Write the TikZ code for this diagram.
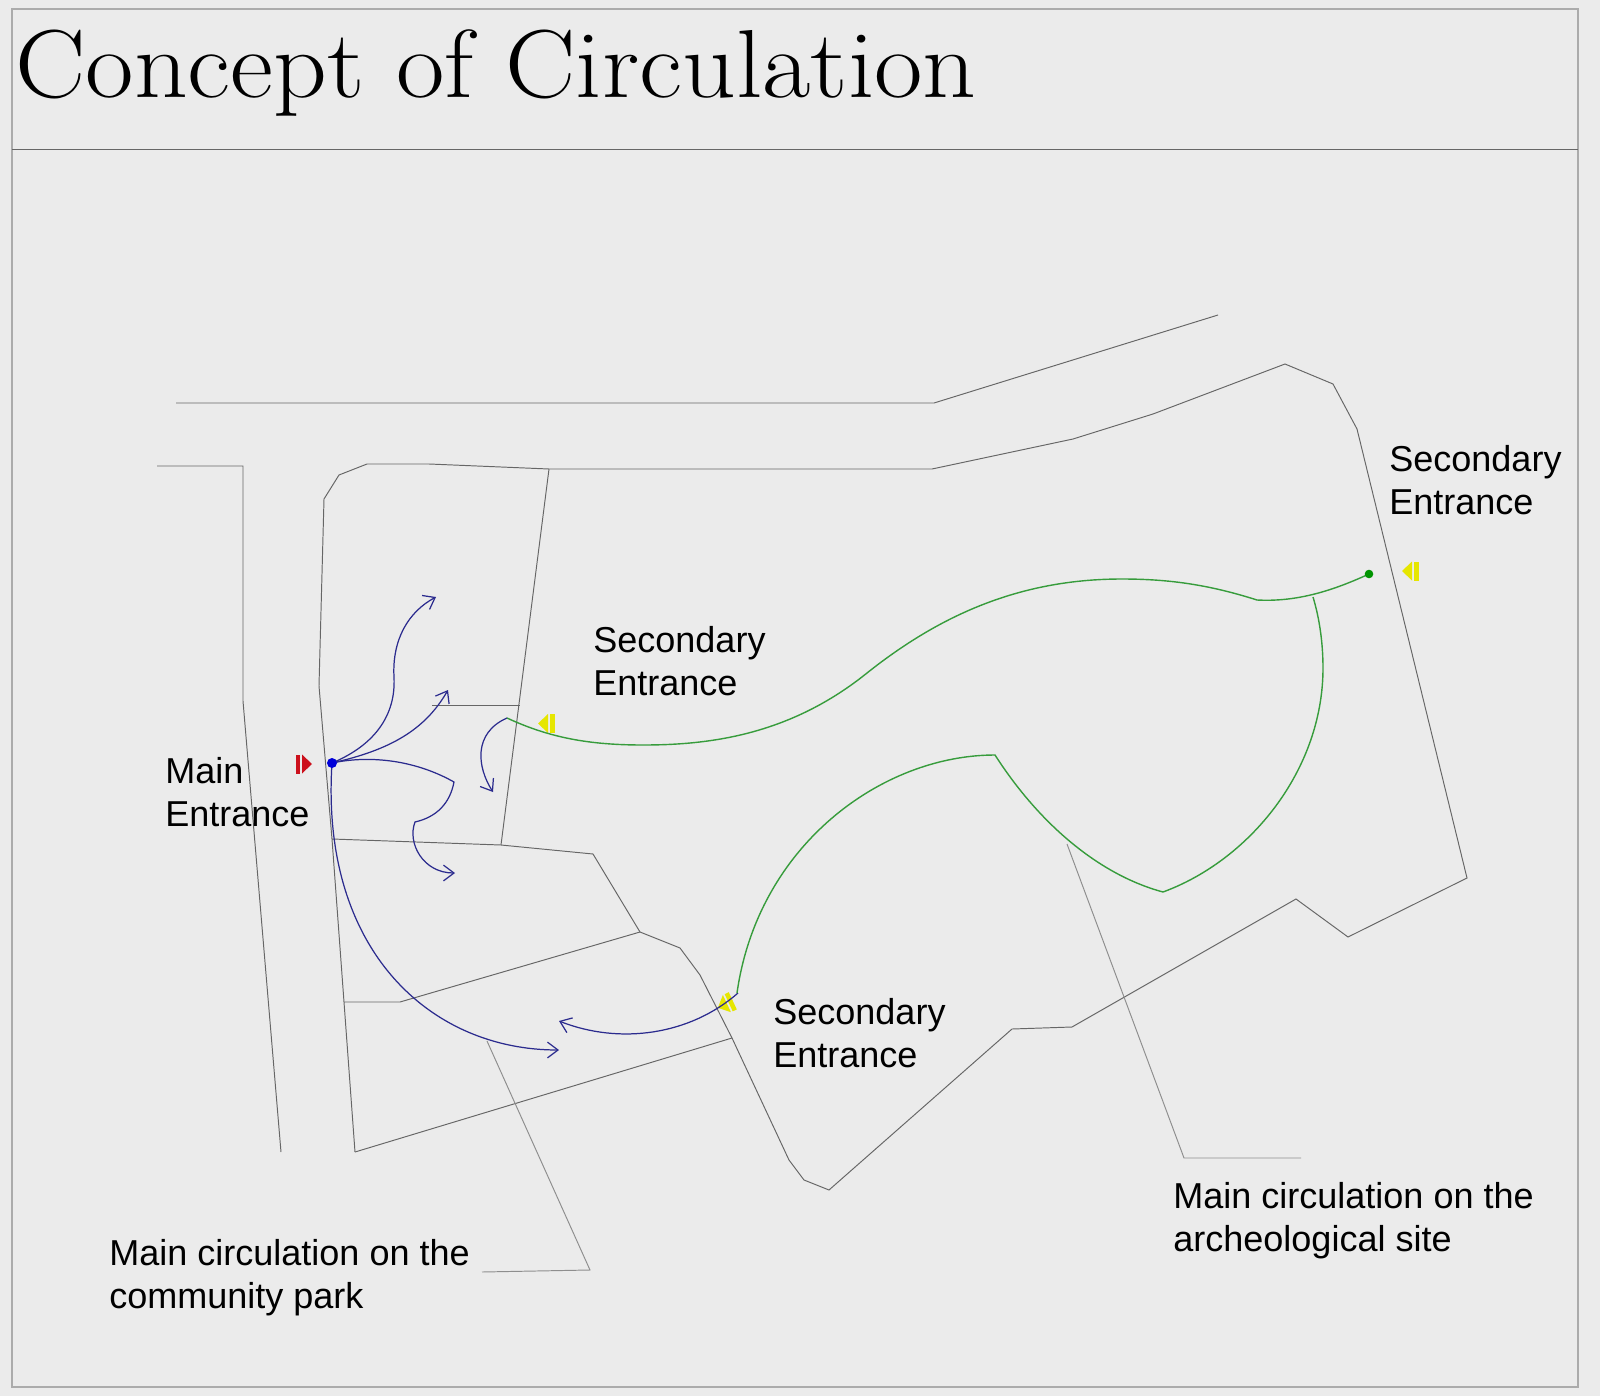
\documentclass[tikz,border=0pt]{standalone}
\usepackage{fontspec}
\setmainfont{Liberation Sans}
\newfontfamily\titlefont{Latin Modern Roman}
\usetikzlibrary{arrows.meta}
\definecolor{pagegray}{HTML}{EBEBEB}
\definecolor{framegray}{HTML}{ABABAB}
\definecolor{wallgray}{HTML}{666666}
\definecolor{leadgray}{HTML}{8E8E8E}
\definecolor{pathblue}{HTML}{2B2B8E}
\definecolor{pathgreen}{HTML}{379C3C}
\definecolor{gatered}{HTML}{CC101C}
\definecolor{gateyellow}{HTML}{E6E600}
\tikzset{
  wall/.style={draw=wallgray,line width=0.55pt},
  leader/.style={draw=leadgray,line width=0.55pt},
  bluepath/.style={draw=pathblue,line width=0.7pt},
  bluearrow/.style={bluepath,-{Straight Barb[length=6pt,width=9pt,line width=0.7pt]}},
  greenpath/.style={draw=pathgreen,line width=0.8pt},
  label/.style={anchor=west,align=left,inner sep=0pt,font=\fontsize{20.5}{24.4}\selectfont},
  gatemark/.pic={
    \fill (-9,0)--(1,-9.5)--(1,9.5)--cycle;
    \fill (3,-9.5) rectangle (7.5,9.5);
  }
}
\begin{document}
\begin{tikzpicture}[x=0.02cm,y=-0.02cm]
  \useasboundingbox (0,0) rectangle (1600,1396);
  \fill[pagegray] (0,0) rectangle (1600,1396);
  % frame and title
  \draw[framegray,line width=0.6pt] (12,9) rectangle (1578,1387);
  \draw[wallgray,line width=0.55pt] (12,149) -- (1578,149);
  \node[anchor=base west,inner sep=0pt,xscale=1.09] (title) at (15,97) {\fontsize{55}{60}\titlefont Concept of Circulation};
  % roads
  \draw[wall] (176,403) -- (934,403) -- (1218,315);
  \draw[wall] (157,466) -- (243,466) -- (243,701) -- (281,1152);
  % site outline
  \draw[wall] (355,1152) -- (344,1002) -- (332,839) -- (319,686) -- (324,499) -- (339,475) -- (367,464) -- (429,464) -- (549,469)
    -- (932,469) -- (1073,439) -- (1153,414) -- (1285,364) -- (1333,384) -- (1357,429) -- (1467,878) -- (1348,937) -- (1296,899)
    -- (1072,1027) -- (1012,1029) -- (829,1190) -- (804,1180) -- (789,1160) -- (732,1038) -- (700,975) -- (680,948) -- (640,932)
    -- (593,854) -- (501,845) -- (332,839);
  % inner parcels
  \draw[wall] (549,469) -- (501,845);
  \draw[wall] (432,705) -- (520,705);
  \draw[wall] (344,1002) -- (400,1002) -- (640,932);
  \draw[wall] (355,1152) -- (732,1038);
  % leaders
  \draw[leader] (487,1041) -- (590,1270) -- (482,1272);
  \draw[leader] (1067,844) -- (1184,1158) -- (1301,1158);
  % entrances
  \pic[color=gatered,xscale=-1] at (303,764) {gatemark};
  \pic[color=gateyellow] at (547,723.5) {gatemark};
  \pic[color=gateyellow,rotate=25] at (726,1004) {gatemark};
  \pic[color=gateyellow] at (1411,571) {gatemark};
  % blue circulation
  \draw[bluearrow] (332,763) .. controls (375,745) and (396,715) .. (394,677) .. controls (392,640) and (408,612) .. (436,597);
  \draw[bluearrow] (332,763) .. controls (390,750) and (425,730) .. (448,690);
  \draw[bluearrow] (332,763) .. controls (370,755) and (415,760) .. (454,782) .. controls (450,803) and (437,817) .. (415,822)
    .. controls (407,843) and (423,873) .. (455,873);
  \draw[bluearrow] (507,718) .. controls (473,733) and (477,767) .. (493,792);
  \draw[bluearrow] (332,763) .. controls (320,950) and (430,1050) .. (559,1050);
  \draw[bluearrow] (738,993) .. controls (690,1035) and (620,1045) .. (559,1021);
  % green circulation
  \draw[greenpath] (1369,574) .. controls (1330,592) and (1295,602) .. (1257,600) .. controls (1210,585) and (1170,579) .. (1122,579)
    .. controls (1020,579) and (940,615) .. (867,673) .. controls (790,735) and (710,745) .. (643,745)
    .. controls (590,745) and (550,738) .. (507,718);
  \draw[greenpath] (1313,597) .. controls (1320,620) and (1323,645) .. (1323,668) .. controls (1323,770) and (1250,860) .. (1163,892)
    .. controls (1100,875) and (1040,825) .. (995,755) .. controls (882,755) and (758,845) .. (737,993);
  \fill[blue!85!black] (332,763) circle (5);
  \fill[green!58!black] (1369,574) circle (4.3);
  % labels
  \node[label] (mainentry) at (165,792) {Main\\Entrance};
  \node[label] (secondone) at (593,661) {Secondary\\Entrance};
  \node[label] (secondtwo) at (773,1033) {Secondary\\Entrance};
  \node[label] (secondthree) at (1389,480) {Secondary\\Entrance};
  \node[label] (archsite) at (1173,1221) {Main circulation on the\\archeological site};
  \node[label] (commpark) at (109,1278) {Main circulation on the\\community park};
\end{tikzpicture}
\end{document}
